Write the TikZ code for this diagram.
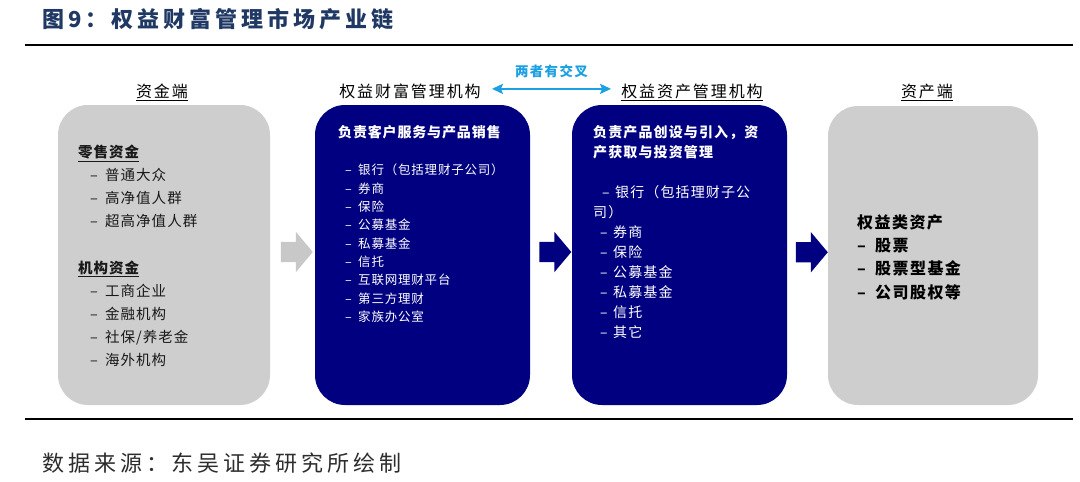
\documentclass[tikz,border=0pt]{standalone}
\usepackage{fontspec}
\setmainfont{Noto Sans CJK SC}
\usetikzlibrary{arrows.meta,shapes.arrows,calc,positioning}
\definecolor{navy}{RGB}{0,0,128}
\definecolor{boxgrey}{RGB}{206,206,206}
\definecolor{arrowgrey}{RGB}{200,200,200}
\definecolor{crossblue}{RGB}{28,160,226}
\definecolor{titleblue}{RGB}{31,56,100}
\definecolor{srcgrey}{RGB}{45,45,45}
\tikzset{panel/.style={rounded corners=30pt, minimum width=215pt, minimum height=300pt, inner sep=0pt},
  greypanel/.style={panel, fill=boxgrey},
  bluepanel/.style={panel, fill=navy},
  flow/.style={single arrow, single arrow head extend=10pt, single arrow tip angle=100, minimum width=40pt, minimum height=32pt, inner xsep=0pt, inner ysep=10pt},
  colhead/.style={anchor=base, inner sep=0pt, font={\fontsize{16}{18}\selectfont\addfontfeature{LetterSpace=12}}},
  txtblock/.style={anchor=north west, align=left, inner sep=0pt}}
\newcommand\itemdash[1]{\makebox[#1][l]{–}}

\begin{document}
\begin{tikzpicture}[x=1pt, y=-1pt, >={Stealth[length=11pt,width=10pt,inset=2pt]}]
\useasboundingbox (0,0) rectangle (1080,482);

% title, rules, source
\node[anchor=base west, inner sep=0pt, text=titleblue, font={\fontsize{22}{24}\selectfont\bfseries\addfontfeature{LetterSpace=18}}] (title) at (42,27.4) {图9：权益财富管理市场产业链};
\draw[line width=2.5pt] (25,45) -- (1073,45);
\draw[line width=2.5pt] (25,419) -- (1073,419);
\node[anchor=base west, inner sep=0pt, text=srcgrey, font={\fontsize{22}{24}\selectfont\addfontfeature{LetterSpace=18}}] (source) at (42,471.4) {数据来源：东吴证券研究所绘制};

% the four panels
\node[greypanel, minimum width=212pt] (fund) at (164,255) {};
\node[bluepanel] (wealth) at (422.5,255) {};
\node[bluepanel] (asset) at (679.5,255) {};
\node[greypanel, minimum width=210pt, minimum height=299pt] (equity) at (933,255.5) {};

% flow arrows
\node[flow, fill=arrowgrey] (f1) at ($(fund.east)!.5!(wealth.west)+(0,-3)$) {};
\node[flow, fill=navy] (f2) at ($(wealth.east)!.5!(asset.west)+(0,-3)$) {};
\node[flow, fill=navy] (f3) at ($(asset.east)!.5!(equity.west)+(0,-3)$) {};

% column heads
\node[colhead] (h1) at (162,97) {\underline{资金端}};
\node[colhead] (h2) at (410,97) {权益财富管理机构};
\node[colhead] (h3) at (692,97) {\underline{权益资产管理机构}};
\node[colhead] (h4) at (927,97) {\underline{资产端}};

\coordinate (xl) at ([xshift=11pt,yshift=2pt]h2.east);
\coordinate (xr) at ([xshift=-10pt]h3.west |- xl);
\draw[<->, crossblue, line width=2.5pt] (xl) -- node[above=10pt, inner sep=0pt, text=crossblue, font={\fontsize{13.5}{15}\selectfont\bfseries\addfontfeature{LetterSpace=10}}] (tag) {两者有交叉} (xr);

% panel texts
\node[txtblock, text=black!90, font={\fontsize{14.5}{23}\selectfont\addfontfeature{LetterSpace=7}}] (fundtxt) at (78,145) {%
\underline{\bfseries 零售资金}\\
\hspace*{12pt}\itemdash{15pt}普通大众\\
\hspace*{12pt}\itemdash{15pt}高净值人群\\
\hspace*{12pt}\itemdash{15pt}超高净值人群\\[24pt]
\underline{\bfseries 机构资金}\\
\hspace*{12pt}\itemdash{15pt}工商企业\\
\hspace*{12pt}\itemdash{15pt}金融机构\\
\hspace*{12pt}\itemdash{15pt}社保/养老金\\
\hspace*{12pt}\itemdash{15pt}海外机构};

\node[txtblock, text=white, font={\fontsize{14}{20}\selectfont\bfseries\addfontfeature{LetterSpace=6}}] (wealthhd) at (338,125.3) {负责客户服务与产品销售};
\node[txtblock, text=white, font={\fontsize{12.5}{18.3}\selectfont\addfontfeature{LetterSpace=6.4}}] (wealthtxt) at (345,164) {%
\itemdash{13pt}银行（包括理财子公司）\\
\itemdash{13pt}券商\\
\itemdash{13pt}保险\\
\itemdash{13pt}公募基金\\
\itemdash{13pt}私募基金\\
\itemdash{13pt}信托\\
\itemdash{13pt}互联网理财平台\\
\itemdash{13pt}第三方理财\\
\itemdash{13pt}家族办公室};

\node[txtblock, text=white, font={\fontsize{14}{20}\selectfont\bfseries\addfontfeature{LetterSpace=8}}] (assethd) at (593,125.3) {负责产品创设与引入，资\\产获取与投资管理};
\node[txtblock, text=white, font={\fontsize{14}{20}\selectfont\addfontfeature{LetterSpace=8}}] (assettxt) at (593,185.3) {%
\hspace*{9pt}\itemdash{13pt}银行（包括理财子公\\
司）\\
\hspace*{7pt}\itemdash{13pt}券商\\
\hspace*{7pt}\itemdash{13pt}保险\\
\hspace*{7pt}\itemdash{13pt}公募基金\\
\hspace*{7pt}\itemdash{13pt}私募基金\\
\hspace*{7pt}\itemdash{13pt}信托\\
\hspace*{7pt}\itemdash{13pt}其它};

\node[txtblock, text=black, font={\fontsize{16}{23.3}\selectfont\bfseries\addfontfeature{LetterSpace=9}}] (equitytxt) at (857,214.3) {%
权益类资产\\
\itemdash{18pt}股票\\
\itemdash{18pt}股票型基金\\
\itemdash{18pt}公司股权等};
\end{tikzpicture}
\end{document}
